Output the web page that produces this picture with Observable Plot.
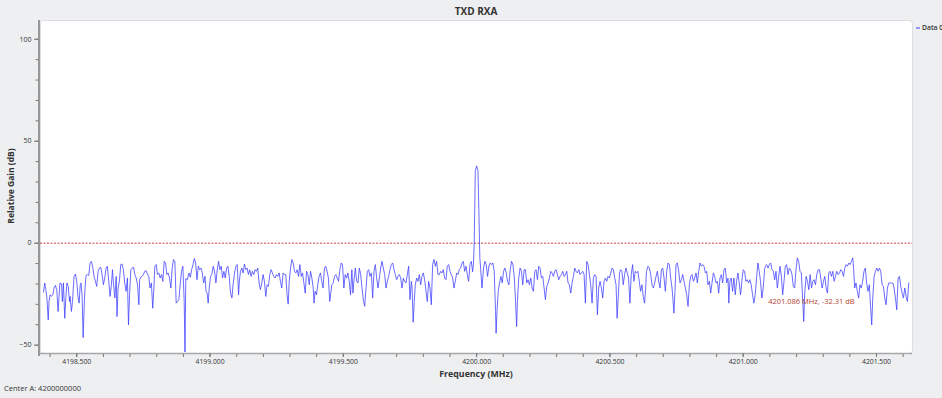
<!DOCTYPE html>
<html><head><meta charset="utf-8">
<script src="https://cdn.jsdelivr.net/npm/d3@7"></script>
<script src="https://cdn.jsdelivr.net/npm/@observablehq/plot@0.6"></script>
<style>
html,body{margin:0;padding:0;background:#eeeff1;}
#chart{width:942px;height:398px;overflow:hidden;}
</style></head><body><div id="chart"></div>
<script>
// Spectrum trace: [frequency (MHz), relative gain (dB)]
const spectrum = [
[4198.375,-24.0],[4198.380,-19.5],[4198.384,-22.8],[4198.388,-26.9],[4198.393,-37.6],[4198.396,-28.6],[4198.400,-25.3],[4198.405,-26.1],[4198.410,-25.3],[4198.415,-22.0],[4198.420,-20.7],[4198.425,-22.8],[4198.430,-33.5],[4198.434,-25.3],[4198.437,-19.5],[4198.443,-20.0],[4198.446,-28.6],[4198.450,-19.5],[4198.455,-36.8],[4198.459,-26.9],[4198.463,-19.5],[4198.468,-21.2],[4198.473,-28.6],[4198.475,-26.1],[4198.480,-33.5],[4198.484,-28.6],[4198.490,-16.3],[4198.495,-15.1],[4198.500,-18.7],[4198.505,-26.9],[4198.509,-29.4],[4198.513,-20.4],[4198.516,-19.5],[4198.520,-25.3],[4198.524,-46.3],[4198.528,-30.2],[4198.531,-22.0],[4198.535,-15.8],[4198.540,-15.4],[4198.545,-15.8],[4198.550,-9.7],[4198.555,-8.9],[4198.560,-11.8],[4198.565,-16.3],[4198.570,-18.7],[4198.575,-21.2],[4198.580,-13.8],[4198.585,-12.2],[4198.590,-11.8],[4198.595,-15.4],[4198.600,-20.4],[4198.605,-17.1],[4198.610,-12.2],[4198.615,-11.3],[4198.620,-18.7],[4198.625,-26.1],[4198.630,-20.4],[4198.634,-13.0],[4198.637,-18.7],[4198.643,-26.9],[4198.648,-16.3],[4198.651,-36.0],[4198.655,-22.0],[4198.660,-18.7],[4198.665,-10.5],[4198.670,-10.2],[4198.675,-13.0],[4198.680,-19.5],[4198.685,-23.6],[4198.690,-17.1],[4198.694,-40.1],[4198.698,-25.3],[4198.703,-13.0],[4198.708,-12.2],[4198.713,-11.8],[4198.718,-15.4],[4198.723,-17.1],[4198.728,-20.4],[4198.733,-30.2],[4198.736,-17.9],[4198.740,-16.7],[4198.745,-16.3],[4198.750,-15.4],[4198.755,-13.8],[4198.760,-13.5],[4198.765,-15.1],[4198.770,-16.3],[4198.775,-22.0],[4198.780,-19.5],[4198.785,-31.9],[4198.789,-22.8],[4198.793,-11.3],[4198.798,-10.5],[4198.803,-15.4],[4198.808,-14.6],[4198.813,-17.1],[4198.818,-15.4],[4198.823,-18.7],[4198.828,-8.9],[4198.833,-9.7],[4198.838,-15.4],[4198.843,-14.6],[4198.848,-17.1],[4198.853,-22.0],[4198.858,-12.2],[4198.863,-8.0],[4198.868,-8.9],[4198.873,-29.4],[4198.878,-28.6],[4198.883,-27.7],[4198.888,-20.4],[4198.893,-13.8],[4198.898,-11.3],[4198.903,-28.6],[4198.906,-53.4],
[4198.909,-17.4],[4198.915,-17.9],[4198.921,-14.6],[4198.926,-16.7],[4198.931,-13.0],[4198.936,-10.5],[4198.941,-7.5],[4198.946,-9.7],[4198.951,-17.9],[4198.956,-11.3],[4198.961,-13.0],[4198.966,-12.2],[4198.971,-14.6],[4198.976,-19.5],[4198.981,-16.3],[4198.985,-23.6],[4198.989,-24.5],[4198.993,-29.4],[4198.997,-22.0],[4199.002,-16.3],[4199.007,-15.1],[4199.012,-11.3],[4199.017,-13.8],[4199.022,-19.5],[4199.027,-13.0],[4199.032,-8.9],[4199.037,-13.0],[4199.042,-11.3],[4199.047,-17.1],[4199.052,-13.8],[4199.057,-17.1],[4199.062,-12.2],[4199.067,-11.3],[4199.072,-16.3],[4199.077,-24.5],[4199.082,-26.9],[4199.087,-19.5],[4199.092,-14.6],[4199.097,-11.3],[4199.102,-10.5],[4199.107,-25.3],[4199.110,-18.7],[4199.114,-13.8],[4199.119,-12.2],[4199.124,-14.6],[4199.129,-10.2],[4199.134,-13.0],[4199.139,-12.2],[4199.144,-15.4],[4199.149,-13.0],[4199.154,-16.3],[4199.159,-13.8],[4199.164,-15.4],[4199.169,-13.0],[4199.174,-13.8],[4199.179,-12.2],[4199.184,-19.5],[4199.189,-22.8],[4199.194,-19.5],[4199.199,-15.4],[4199.204,-18.7],[4199.209,-26.1],[4199.214,-20.4],[4199.219,-21.2],[4199.224,-15.4],[4199.229,-13.0],[4199.234,-14.6],[4199.239,-16.3],[4199.244,-17.1],[4199.249,-15.4],[4199.254,-16.3],[4199.259,-14.6],[4199.264,-18.7],[4199.269,-22.0],[4199.274,-14.6],[4199.279,-15.4],[4199.284,-15.4],[4199.289,-25.3],[4199.293,-29.9],[4199.297,-18.7],[4199.302,-12.2],[4199.307,-8.0],[4199.312,-9.7],[4199.317,-13.8],[4199.322,-14.6],[4199.327,-13.0],[4199.332,-16.3],[4199.337,-10.5],[4199.342,-16.3],[4199.347,-14.6],[4199.352,-19.5],[4199.357,-24.5],[4199.362,-13.8],[4199.367,-15.4],[4199.372,-20.4],[4199.377,-13.8],[4199.382,-17.1],[4199.387,-22.0],[4199.390,-29.4],[4199.394,-23.6],[4199.399,-25.3],[4199.404,-20.4],[4199.409,-16.3],[4199.414,-14.6],[4199.419,-18.7],[4199.424,-22.0],[4199.429,-12.2],[4199.434,-11.3],[4199.439,-13.8],[4199.444,-17.1],[4199.449,-28.6],
[4199.452,-25.3],[4199.457,-20.4],[4199.462,-19.5],[4199.467,-16.3],[4199.472,-15.4],[4199.477,-17.1],[4199.482,-18.7],[4199.487,-13.0],[4199.492,-9.7],[4199.497,-10.5],[4199.502,-22.0],[4199.507,-15.4],[4199.512,-17.1],[4199.517,-14.6],[4199.522,-18.7],[4199.527,-25.3],[4199.532,-13.0],[4199.536,-24.5],[4199.540,-17.9],[4199.545,-12.2],[4199.550,-18.7],[4199.555,-19.5],[4199.560,-12.2],[4199.565,-15.4],[4199.570,-22.0],[4199.575,-27.7],[4199.580,-31.0],[4199.585,-22.0],[4199.590,-13.8],[4199.595,-13.0],[4199.600,-16.3],[4199.605,-14.6],[4199.610,-26.9],[4199.615,-13.8],[4199.620,-10.5],[4199.625,-17.1],[4199.630,-22.0],[4199.635,-17.1],[4199.640,-12.2],[4199.645,-8.9],[4199.650,-12.2],[4199.655,-15.4],[4199.660,-22.0],[4199.665,-18.7],[4199.670,-16.3],[4199.675,-13.0],[4199.680,-10.5],[4199.685,-9.7],[4199.690,-13.0],[4199.695,-15.4],[4199.700,-17.9],[4199.705,-16.3],[4199.710,-15.4],[4199.715,-17.1],[4199.720,-22.0],[4199.725,-17.1],[4199.730,-18.7],[4199.735,-19.5],[4199.740,-15.4],[4199.745,-11.3],[4199.750,-27.7],[4199.755,-18.7],[4199.758,-22.0],[4199.762,-38.8],[4199.766,-28.6],[4199.770,-20.4],[4199.775,-17.1],[4199.780,-18.7],[4199.785,-15.4],[4199.790,-20.4],[4199.795,-16.3],[4199.800,-14.6],[4199.805,-17.9],[4199.810,-23.6],[4199.815,-28.6],[4199.820,-18.7],[4199.825,-22.0],[4199.830,-30.2],[4199.835,-10.5],[4199.840,-8.0],[4199.845,-11.3],[4199.850,-8.9],[4199.855,-15.4],[4199.860,-15.4],[4199.865,-13.8],[4199.870,-14.6],[4199.875,-13.0],[4199.880,-17.1],[4199.885,-17.9],[4199.890,-11.3],[4199.895,-10.5],[4199.900,-13.8],[4199.905,-15.4],[4199.910,-17.1],[4199.915,-22.0],[4199.920,-18.7],[4199.925,-14.6],[4199.930,-15.4],[4199.935,-13.0],[4199.940,-12.2],[4199.945,-9.7],[4199.950,-8.9],[4199.955,-13.8],[4199.960,-11.3],[4199.965,-15.4],[4199.970,-18.7],[4199.975,-10.5],[4199.980,-8.9],[4199.985,-14.0],[4199.988,-10.0],
[4199.991,0.0],[4199.995,35.5],[4200.000,37.9],[4200.005,35.5],[4200.009,12.5],[4200.012,-7.2],[4200.015,-12.2],[4200.020,-22.0],
[4200.026,-12.2],[4200.031,-8.9],[4200.036,-10.5],[4200.041,-16.3],[4200.046,-11.3],[4200.051,-9.7],[4200.056,-10.5],[4200.061,-9.7],[4200.066,-13.8],[4200.071,-33.5],[4200.073,-44.2],[4200.077,-31.9],[4200.081,-23.6],[4200.086,-19.5],[4200.091,-16.3],[4200.096,-19.5],[4200.101,-13.8],[4200.106,-12.2],[4200.111,-14.6],[4200.116,-18.7],[4200.121,-20.4],[4200.126,-13.0],[4200.131,-8.9],[4200.136,-10.5],[4200.141,-16.3],[4200.146,-28.6],[4200.150,-40.9],[4200.153,-28.6],[4200.158,-17.1],[4200.163,-12.2],[4200.168,-13.8],[4200.173,-20.4],[4200.178,-13.0],[4200.183,-13.0],[4200.188,-19.5],[4200.193,-17.9],[4200.198,-20.4],[4200.203,-17.1],[4200.208,-22.0],[4200.213,-23.6],[4200.218,-13.8],[4200.223,-13.0],[4200.228,-17.9],[4200.233,-11.3],[4200.238,-12.2],[4200.243,-17.1],[4200.248,-16.3],[4200.253,-22.0],[4200.258,-27.7],[4200.263,-21.2],[4200.268,-19.5],[4200.273,-17.1],[4200.278,-13.8],[4200.283,-14.6],[4200.288,-16.3],[4200.293,-13.8],[4200.298,-13.0],[4200.303,-15.4],[4200.308,-17.9],[4200.313,-16.3],[4200.318,-15.4],[4200.323,-13.8],[4200.328,-16.3],[4200.333,-15.4],[4200.338,-13.8],[4200.343,-19.5],[4200.348,-20.4],[4200.353,-24.5],[4200.358,-19.5],[4200.363,-16.3],[4200.368,-12.2],[4200.373,-13.8],[4200.378,-14.6],[4200.383,-13.0],[4200.388,-15.4],[4200.393,-14.6],[4200.398,-13.8],[4200.403,-15.4],[4200.408,-29.4],[4200.413,-8.9],[4200.418,-10.5],[4200.423,-15.4],[4200.428,-20.4],[4200.433,-29.4],[4200.438,-17.1],[4200.443,-15.4],[4200.448,-16.3],[4200.453,-35.1],[4200.458,-22.0],[4200.463,-18.7],[4200.468,-22.0],[4200.473,-26.9],[4200.478,-18.7],[4200.483,-17.1],[4200.488,-18.7],[4200.493,-16.3],[4200.498,-17.1],[4200.503,-14.6],[4200.508,-12.2],[4200.513,-13.0],[4200.518,-17.1],[4200.523,-20.4],[4200.527,-36.8],[4200.531,-26.9],[4200.536,-14.6],
[4200.540,-13.0],[4200.545,-13.8],[4200.550,-20.4],[4200.555,-15.4],[4200.560,-12.2],[4200.565,-14.6],[4200.570,-17.1],[4200.575,-29.4],[4200.580,-15.4],[4200.585,-10.5],[4200.590,-18.7],[4200.595,-13.8],[4200.600,-14.6],[4200.605,-13.8],[4200.610,-18.7],[4200.615,-23.6],[4200.620,-20.4],[4200.625,-26.1],[4200.630,-29.4],[4200.634,-22.0],[4200.637,-13.8],[4200.643,-11.3],[4200.648,-12.2],[4200.653,-15.4],[4200.658,-20.4],[4200.663,-22.0],[4200.668,-19.5],[4200.673,-16.3],[4200.678,-13.8],[4200.683,-18.7],[4200.688,-22.0],[4200.693,-13.0],[4200.698,-12.2],[4200.703,-17.1],[4200.708,-23.6],[4200.713,-13.8],[4200.718,-9.7],[4200.723,-10.5],[4200.728,-17.1],[4200.733,-22.0],[4200.736,-26.9],[4200.740,-34.3],[4200.744,-23.6],[4200.748,-10.5],[4200.753,-9.7],[4200.758,-13.8],[4200.763,-19.5],[4200.768,-17.9],[4200.773,-15.4],[4200.778,-18.7],[4200.783,-22.0],[4200.788,-25.3],[4200.793,-31.0],[4200.798,-20.4],[4200.803,-16.3],[4200.808,-15.4],[4200.813,-18.7],[4200.818,-17.1],[4200.823,-14.6],[4200.828,-19.5],[4200.833,-13.8],[4200.838,-9.7],[4200.843,-11.3],[4200.848,-10.5],[4200.853,-11.3],[4200.858,-14.6],[4200.863,-13.8],[4200.868,-20.4],[4200.873,-18.7],[4200.878,-24.5],[4200.883,-19.5],[4200.888,-14.6],[4200.893,-16.3],[4200.898,-19.5],[4200.903,-18.7],[4200.908,-24.5],[4200.913,-17.1],[4200.918,-15.4],[4200.923,-19.5],[4200.928,-13.0],[4200.933,-12.2],[4200.938,-19.5],[4200.943,-17.1],[4200.946,-29.4],[4200.950,-18.7],[4200.955,-17.1],[4200.960,-23.6],[4200.965,-17.1],[4200.970,-25.3],[4200.975,-18.7],[4200.980,-14.6],[4200.985,-19.5],[4200.990,-25.3],[4200.995,-18.7],[4201.000,-13.0],[4201.005,-13.8],[4201.010,-18.7],[4201.015,-17.9],[4201.020,-19.5],[4201.025,-17.9],[4201.030,-20.4],[4201.035,-25.3],[4201.040,-29.4],[4201.045,-25.3],[4201.050,-17.1],[4201.055,-9.7],[4201.060,-13.8],[4201.065,-18.7],[4201.070,-26.9],[4201.075,-22.0],[4201.080,-13.0],
[4201.083,-11.3],[4201.088,-10.5],[4201.093,-12.2],[4201.098,-10.5],[4201.103,-9.7],[4201.108,-13.0],[4201.113,-13.8],[4201.118,-17.9],[4201.123,-13.8],[4201.128,-22.0],[4201.133,-16.3],[4201.138,-11.3],[4201.143,-16.3],[4201.148,-25.3],[4201.153,-18.7],[4201.158,-11.3],[4201.163,-10.5],[4201.168,-15.4],[4201.173,-12.2],[4201.178,-13.0],[4201.183,-15.4],[4201.188,-21.2],[4201.193,-22.0],[4201.198,-13.0],[4201.203,-7.2],[4201.208,-8.9],[4201.213,-13.8],[4201.218,-14.6],[4201.223,-27.7],[4201.227,-38.4],[4201.231,-23.6],[4201.236,-16.3],[4201.241,-18.7],[4201.246,-22.8],[4201.251,-15.4],[4201.256,-22.0],[4201.261,-18.7],[4201.266,-17.9],[4201.271,-20.4],[4201.276,-15.4],[4201.281,-13.0],[4201.286,-13.0],[4201.291,-17.1],[4201.296,-22.0],[4201.301,-18.7],[4201.306,-16.3],[4201.311,-22.0],[4201.316,-24.5],[4201.321,-14.6],[4201.326,-13.8],[4201.331,-16.3],[4201.336,-13.8],[4201.341,-18.7],[4201.346,-16.3],[4201.351,-13.8],[4201.356,-15.4],[4201.361,-14.6],[4201.366,-13.0],[4201.371,-13.8],[4201.376,-16.3],[4201.381,-12.2],[4201.386,-10.5],[4201.391,-11.3],[4201.396,-9.7],[4201.401,-10.5],[4201.406,-8.9],[4201.411,-7.2],[4201.414,-12.2],[4201.418,-22.0],[4201.423,-19.5],[4201.428,-23.6],[4201.433,-26.9],[4201.438,-20.4],[4201.443,-22.0],[4201.448,-18.7],[4201.453,-13.8],[4201.458,-12.2],[4201.463,-19.5],[4201.468,-23.6],[4201.473,-20.4],[4201.478,-31.9],[4201.482,-40.1],[4201.486,-26.9],[4201.491,-16.3],[4201.496,-13.8],[4201.501,-12.2],[4201.506,-13.8],[4201.511,-12.2],[4201.516,-13.8],[4201.521,-20.4],[4201.526,-21.2],[4201.531,-26.9],[4201.536,-30.2],[4201.541,-22.0],[4201.546,-19.5],[4201.551,-19.5],[4201.556,-19.5],[4201.561,-19.5],[4201.566,-22.0],[4201.571,-26.9],[4201.576,-32.7],[4201.581,-17.1],[4201.586,-16.3],[4201.591,-21.2],[4201.596,-24.5],[4201.601,-26.9],[4201.606,-22.0],[4201.611,-26.1],[4201.616,-28.6],[4201.621,-19.5]
];
const xDomain = [4198.364, 4201.635];
const yDomain = [-54.1, 109.2];
const xMajorTicks = [4198.5, 4199.0, 4199.5, 4200.0, 4200.5, 4201.0, 4201.5];
const xMinorTicks = [4198.4,4198.5,4198.6,4198.7,4198.8,4198.9,4199.0,4199.1,4199.2,4199.3,4199.4,4199.5,4199.6,4199.7,4199.8,4199.9,4200.0,4200.1,4200.2,4200.3,4200.4,4200.5,4200.6,4200.7,4200.8,4200.9,4201.0,4201.1,4201.2,4201.3,4201.4,4201.5,4201.6];
const yMajorTicks = [-50, 0, 50, 100];
const yMinorTicks = [-50,-40,-30,-20,-10,0,10,20,30,40,50,60,70,80,90,100];
const referenceLevel = [0];
const markers = [{freq: 4201.086, gain: -32.31, label: "4201.086 MHz, -32.31 dB"}];
const seriesNames = ["Data 0"];

const font = "'Open Sans', 'Noto Sans', sans-serif";
const plot = Plot.plot({
  width: 942, height: 398,
  marginLeft: 40, marginRight: 30, marginTop: 20, marginBottom: 45,
  style: {background: "transparent", fontFamily: font, color: "#333", overflow: "visible"},
  x: {domain: xDomain},
  y: {domain: yDomain},
  marks: [
    Plot.frame({fill: "white", stroke: "#dcdde0", rx: 3}),
    Plot.ruleX([xDomain[0]], {dx: -1.5, stroke: "#7a7a7a", strokeWidth: 1.5, y1: yDomain[0], y2: yDomain[1], insetTop: 3}),
    Plot.ruleY([yDomain[0]], {stroke: "#a8a8a8", strokeWidth: 1.5}),
    Plot.axisY(yMinorTicks, {tickSize: 2.5, dx: -2, text: null, stroke: "#777", label: null}),
    Plot.axisY(yMajorTicks, {tickSize: 4, dx: -2, stroke: "#777", fill: "#333", fontSize: 7, label: null, tickPadding: 3}),
    Plot.axisX(xMinorTicks, {tickSize: 3, dy: 1, text: null, stroke: "#777", label: null}),
    Plot.axisX(xMajorTicks, {tickSize: 4, dy: 0, stroke: "#777", fill: "#333", fontSize: 6.8, tickFormat: d3.format(".3f"), label: null, tickPadding: 2}),
    Plot.ruleY(referenceLevel, {stroke: "#d23b3b", strokeWidth: 1, strokeDasharray: "2,1.5"}),
    Plot.line(spectrum, {x: d => d[0], y: d => d[1], stroke: "#3c3cff", strokeWidth: 0.9, strokeOpacity: 0.85}),
    Plot.text(markers, {x: "freq", y: "gain", text: "label", textAnchor: "start", dx: 2, dy: -7, fill: "#b3432f", fontSize: 7.5})
  ]
});
document.getElementById("chart").appendChild(plot);

const svg = d3.select(plot);
svg.append("text").attr("x", 476).attr("y", 12).attr("text-anchor", "middle").attr("dominant-baseline", "middle")
  .attr("font-family", font).attr("font-weight", "bold").attr("font-size", 10).attr("fill", "#333").text("TXD RXA");
svg.append("text").attr("transform", "translate(12,186) rotate(-90)").attr("text-anchor", "middle").attr("dominant-baseline", "middle")
  .attr("font-family", font).attr("font-weight", "bold").attr("font-size", 8.5).attr("fill", "#333").text("Relative Gain (dB)");
svg.append("text").attr("x", 476).attr("y", 374.5).attr("text-anchor", "middle").attr("dominant-baseline", "middle")
  .attr("font-family", font).attr("font-weight", "bold").attr("font-size", 8.8).attr("fill", "#333").text("Frequency (MHz)");
svg.append("line").attr("x1", 916).attr("x2", 920).attr("y1", 28).attr("y2", 28).attr("stroke", "#3c3cff").attr("stroke-width", 1);
svg.append("text").attr("x", 922).attr("y", 28).attr("text-anchor", "start").attr("dominant-baseline", "middle")
  .attr("font-family", font).attr("font-weight", 600).attr("font-size", 6.8).attr("fill", "#333").text(seriesNames[0]);
svg.append("text").attr("x", 4).attr("y", 389).attr("text-anchor", "start").attr("dominant-baseline", "middle")
  .attr("font-family", font).attr("font-size", 7.5).attr("fill", "#333").text("Center A: 4200000000");
</script></body></html>
